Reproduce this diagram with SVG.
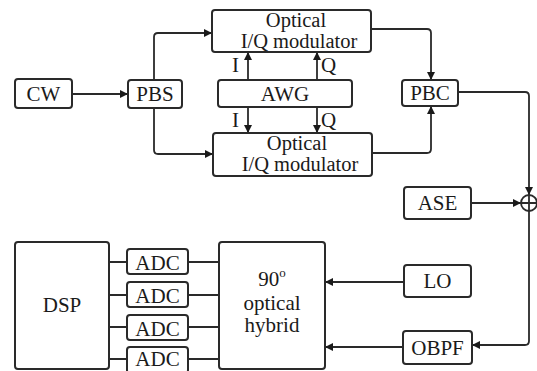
<svg xmlns="http://www.w3.org/2000/svg" width="537" height="371" viewBox="0 0 537 371">
<defs>
<style>
.box{fill:#fff;stroke:#2a2a2a;stroke-width:2}
.ln{fill:none;stroke:#2a2a2a;stroke-width:1.8}
.t{font-family:'Liberation Serif','Times New Roman',serif;font-size:21px;fill:#1a1a1a;text-anchor:middle}
.m{font-size:20.5px}
.lbl{font-family:'Liberation Serif','Times New Roman',serif;font-size:21px;fill:#1a1a1a}
</style>
<marker id="arr" viewBox="0 0 10 10" refX="10" refY="5" markerWidth="9" markerHeight="8" orient="auto" markerUnits="userSpaceOnUse">
<path d="M0,0 L10,5 L0,10 z" fill="#1a1a1a"/>
</marker>
</defs>
<rect width="537" height="371" fill="#fff"/>
<g id="connectors">
<path class="ln" d="M72,94 H128" marker-end="url(#arr)"/>
<path class="ln" d="M154,80 V37 Q154,33 158,33 H212" marker-end="url(#arr)"/>
<path class="ln" d="M154,108 V150 Q154,154 158,154 H213" marker-end="url(#arr)"/>
<path class="ln" d="M248,80 V52" marker-end="url(#arr)"/>
<path class="ln" d="M317,80 V52" marker-end="url(#arr)"/>
<path class="ln" d="M248,107 V133" marker-end="url(#arr)"/>
<path class="ln" d="M317,107 V133" marker-end="url(#arr)"/>
<path class="ln" d="M371,29 H427 Q431,29 431,33 V80" marker-end="url(#arr)"/>
<path class="ln" d="M372,153 H427 Q431,153 431,149 V106" marker-end="url(#arr)"/>
<path class="ln" d="M458,92 H525 Q529,92 529,96 V195" marker-end="url(#arr)"/>
<path class="ln" d="M471,203 H521" marker-end="url(#arr)"/>
<path class="ln" d="M529,211 V341 Q529,345 525,345 H472" marker-end="url(#arr)"/>
<path class="ln" d="M404,282 H325" marker-end="url(#arr)"/>
<path class="ln" d="M403,347 H325" marker-end="url(#arr)"/>
<path class="ln" d="M109,262 H127 M188,262 H219 M109,295 H127 M188,295 H219 M109,327 H127 M188,327 H219 M109,359 H127 M188,359 H219"/>
<text class="lbl" x="232" y="72">I</text>
<text class="lbl" x="321" y="72">Q</text>
<text class="lbl" x="232" y="127">I</text>
<text class="lbl" x="321" y="127">Q</text>
</g>
<g id="sum">
<circle cx="529" cy="203" r="8" fill="#fff" stroke="#2a2a2a" stroke-width="1.8"/>
<path class="ln" d="M521,203 H537 M529,195 V211"/>
</g>
<g id="cw"><rect class="box" x="15" y="79" width="57" height="29" rx="3"/><text class="t" x="43.5" y="101">CW</text></g>
<g id="pbs"><rect class="box" x="128" y="80" width="54" height="28" rx="3"/><text class="t" x="155" y="101">PBS</text></g>
<g id="mod1"><rect class="box" x="212" y="10" width="159" height="42" rx="3"/><text class="t m" x="296" y="27">Optical</text><text class="t m" x="299" y="48">I/Q modulator</text></g>
<g id="awg"><rect class="box" x="218" y="80" width="134" height="27" rx="3"/><text class="t" x="285" y="101">AWG</text></g>
<g id="mod2"><rect class="box" x="213" y="133" width="159" height="43" rx="3"/><text class="t m" x="297" y="150">Optical</text><text class="t m" x="300" y="171">I/Q modulator</text></g>
<g id="pbc"><rect class="box" x="402" y="80" width="56" height="26" rx="3"/><text class="t" x="430" y="100">PBC</text></g>
<g id="ase"><rect class="box" x="404" y="187" width="67" height="32" rx="3"/><text class="t" x="437.5" y="210">ASE</text></g>
<g id="lo"><rect class="box" x="404" y="265" width="67" height="32" rx="3"/><text class="t" x="437.5" y="288">LO</text></g>
<g id="obpf"><rect class="box" x="403" y="331" width="69" height="33" rx="3"/><text class="t" x="437.5" y="355">OBPF</text></g>
<g id="hybrid"><rect class="box" x="219" y="242" width="106" height="127" rx="3"/><text class="t" x="272" y="286">90<tspan dy="-9" font-size="13">o</tspan></text><text class="t" x="272" y="310">optical</text><text class="t" x="272" y="332">hybrid</text></g>
<g id="dsp"><rect class="box" x="15" y="242" width="94" height="127" rx="3"/><text class="t" x="62" y="312">DSP</text></g>
<g id="adc1"><rect class="box" x="127" y="249" width="61" height="25" rx="3"/><text class="t" x="157.5" y="270">ADC</text></g>
<g id="adc2"><rect class="box" x="127" y="282" width="61" height="25" rx="3"/><text class="t" x="157.5" y="303">ADC</text></g>
<g id="adc3"><rect class="box" x="127" y="315" width="61" height="25" rx="3"/><text class="t" x="157.5" y="336">ADC</text></g>
<g id="adc4"><rect class="box" x="127" y="347" width="61" height="26" rx="3"/><text class="t" x="157.5" y="366">ADC</text></g>
</svg>
